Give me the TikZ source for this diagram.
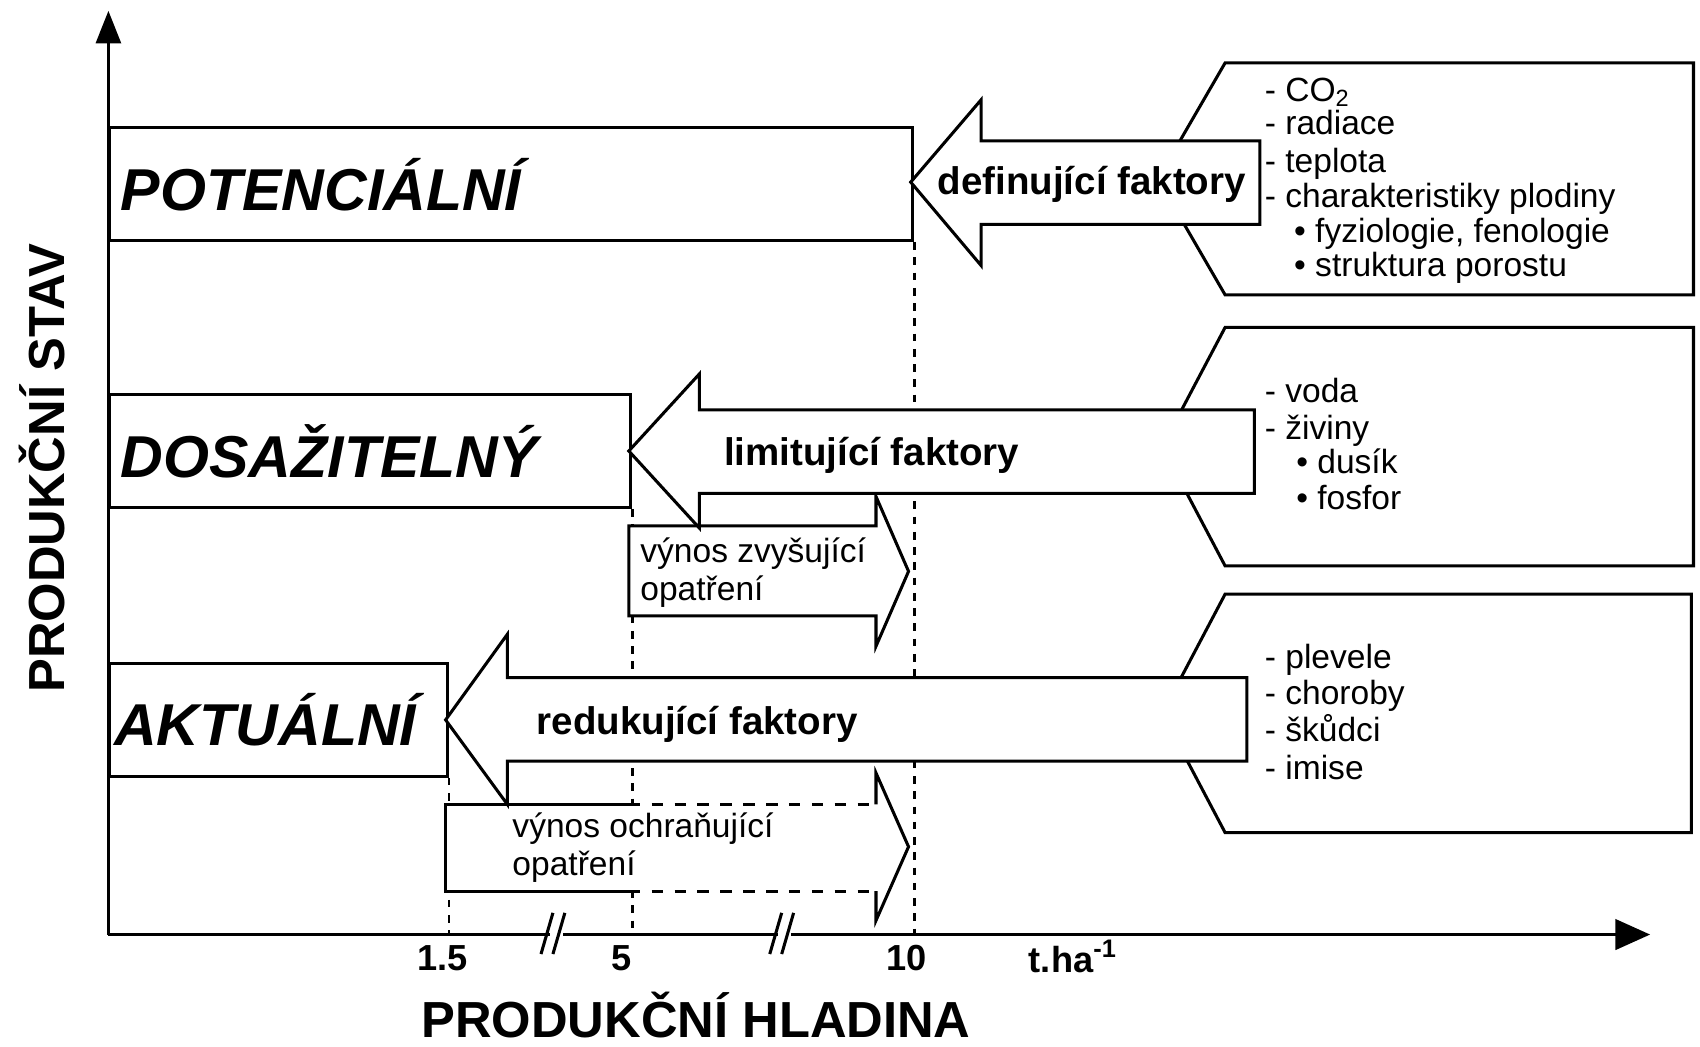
\documentclass[tikz,border=0pt]{standalone}
\usepackage{fontspec}
\setmainfont{Liberation Sans}
\usetikzlibrary{arrows.meta}
\tikzset{
    statebox/.style = {
        rectangle, draw, line width=0.8pt, fill=white,
        minimum height=1.04cm, inner xsep=0.1cm,
        align=left, anchor=west,
        font=\fontsize{15.5}{18}\selectfont\bfseries\itshape
    },
    factorarrow/.style = {
        draw, line width=0.8pt, fill=white, line join=miter
    },
    factorbox/.style = {
        draw, line width=0.8pt
    },
    factorlabel/.style = {
        font=\fontsize{10.1}{12}\selectfont\bfseries
    },
    itemlabel/.style = {
        anchor=base west, inner sep=0pt,
        font=\fontsize{8.8}{10}\selectfont
    },
    measurelabel/.style = {
        anchor=west, inner sep=0pt, align=left,
        font=\fontsize{8.8}{10}\selectfont
    },
    guide/.style = {
        line width=0.7pt, dash pattern=on 2pt off 2pt
    },
    axis/.style = {
        line width=0.8pt, -{Triangle[length=0.3cm, width=0.23cm]}
    },
    axislabel/.style = {
        inner sep=0pt,
        font=\fontsize{13.3}{16}\selectfont\bfseries
    },
    ticklabel/.style = {
        font=\fontsize{9.5}{11}\selectfont\bfseries
    }
}

\begin{document}
\begin{tikzpicture}[x=0.01cm, y=-0.01cm]
\useasboundingbox (0,0) rectangle (1568,965);

\coordinate (origin) at (100,862);
\coordinate (ytop) at (100,10);
\coordinate (xend) at (1522,862);

\draw [factorbox] (1130,58) -- (1562,58) -- (1562,272) -- (1130,272) -- (1068,165) -- cycle;
\draw [factorbox] (1130,302) -- (1562,302) -- (1562,522) -- (1130,522) -- (1072,412) -- cycle;
\draw [factorbox] (1130,548) -- (1560,548) -- (1560,768) -- (1130,768) -- (1072,658) -- cycle;

\node (pot) [statebox, text width=7.20cm] at (100,170) {POTENCIÁLNÍ};
\node (dos) [statebox, text width=4.60cm] at (100,416) {DOSAŽITELNÝ};
\node (akt) [statebox, text width=3.03cm, inner xsep=0.04cm] at (100,664) {AKTUÁLNÍ};

\draw [guide] (pot.south east) -- (pot.south east |- origin);
\draw [guide] (dos.south east) -- (dos.south east |- origin);
\draw [guide] (akt.south east) -- (akt.south east |- origin);

\draw [factorarrow] (580,485) -- (808,485) -- (808,458) -- (838,527) -- (808,596) -- (808,568) -- (580,568) -- cycle;
\fill [white] (411,742) -- (808,742) -- (808,713) -- (838,781) -- (808,849) -- (808,822) -- (411,822) -- cycle;
\draw [factorbox] (580,742) -- (411,742) -- (411,822) -- (580,822);
\draw [factorbox, dash pattern=on 3pt off 3pt] (580,742) -- (808,742) (580,822) -- (808,822);
\draw [factorbox, line join=miter] (808,742) -- (808,713) -- (838,781) -- (808,849) -- (808,822);

\draw [factorarrow] (580,416) -- (645,345) -- (645,378) -- (1157,378) -- (1157,455) -- (645,455) -- (645,487) -- cycle;
\draw [factorarrow] (411,664) -- (468,585) -- (468,625) -- (1150,625) -- (1150,702) -- (468,702) -- (468,742) -- cycle;
\draw [factorarrow] (840,168) -- (905,92) -- (905,130) -- (1162,130) -- (1162,207) -- (905,207) -- (905,245) -- cycle;

\node (deflabel) [factorlabel] at (1007,170) {definující faktory};
\node (limlabel) [factorlabel] at (804,420) {limitující faktory};
\node (redlabel) [factorlabel] at (643,668) {redukující faktory};

\node (zvys) [measurelabel] at (590,528) {výnos zvyšující\\opatření};
\node (ochr) [measurelabel] at (472,782) {výnos ochraňující\\opatření};

\node (co2) [itemlabel] at (1166,94) {- CO\textsubscript{2}};
\node (rad) [itemlabel] at (1166,124) {- radiace};
\node (tep) [itemlabel] at (1166,159) {- teplota};
\node (cha) [itemlabel] at (1166,191) {- charakteristiky plodiny};
\node (fyz) [itemlabel] at (1193,224) {\textbullet\ fyziologie, fenologie};
\node (str) [itemlabel] at (1193,255) {\textbullet\ struktura porostu};

\node (voda) [itemlabel] at (1166,371) {- voda};
\node (ziv) [itemlabel] at (1166,405) {- živiny};
\node (dus) [itemlabel] at (1195,437) {\textbullet\ dusík};
\node (fos) [itemlabel] at (1195,470) {\textbullet\ fosfor};

\node (ple) [itemlabel] at (1166,617) {- plevele};
\node (cho) [itemlabel] at (1166,650) {- choroby};
\node (sku) [itemlabel] at (1166,684) {- škůdci};
\node (imi) [itemlabel] at (1166,719) {- imise};

\draw [axis] (origin) -- (ytop);
\draw [axis, -{Triangle[length=0.32cm, width=0.28cm]}] (origin) -- (xend);

\draw [white, line width=2.5pt] (507,862) -- (519,862);
\draw [line width=0.8pt] (499,880) -- (510,842) (510,880) -- (521,842);
\draw [white, line width=2.5pt] (718,862) -- (730,862);
\draw [line width=0.8pt] (710,880) -- (721,842) (721,880) -- (732,842);

\node (t15) [ticklabel] at (408,884) {1.5};
\node (t5) [ticklabel] at (573,884) {5};
\node (t10) [ticklabel] at (836,884) {10};
\node (unit) [ticklabel] at (990,882) {t.ha\textsuperscript{-1}};

\node (xlabel) [axislabel] at (642,936) {PRODUKČNÍ HLADINA};
\node (ylabel) [axislabel, rotate=90] at (39,432) {PRODUKČNÍ STAV};

\end{tikzpicture}
\end{document}
